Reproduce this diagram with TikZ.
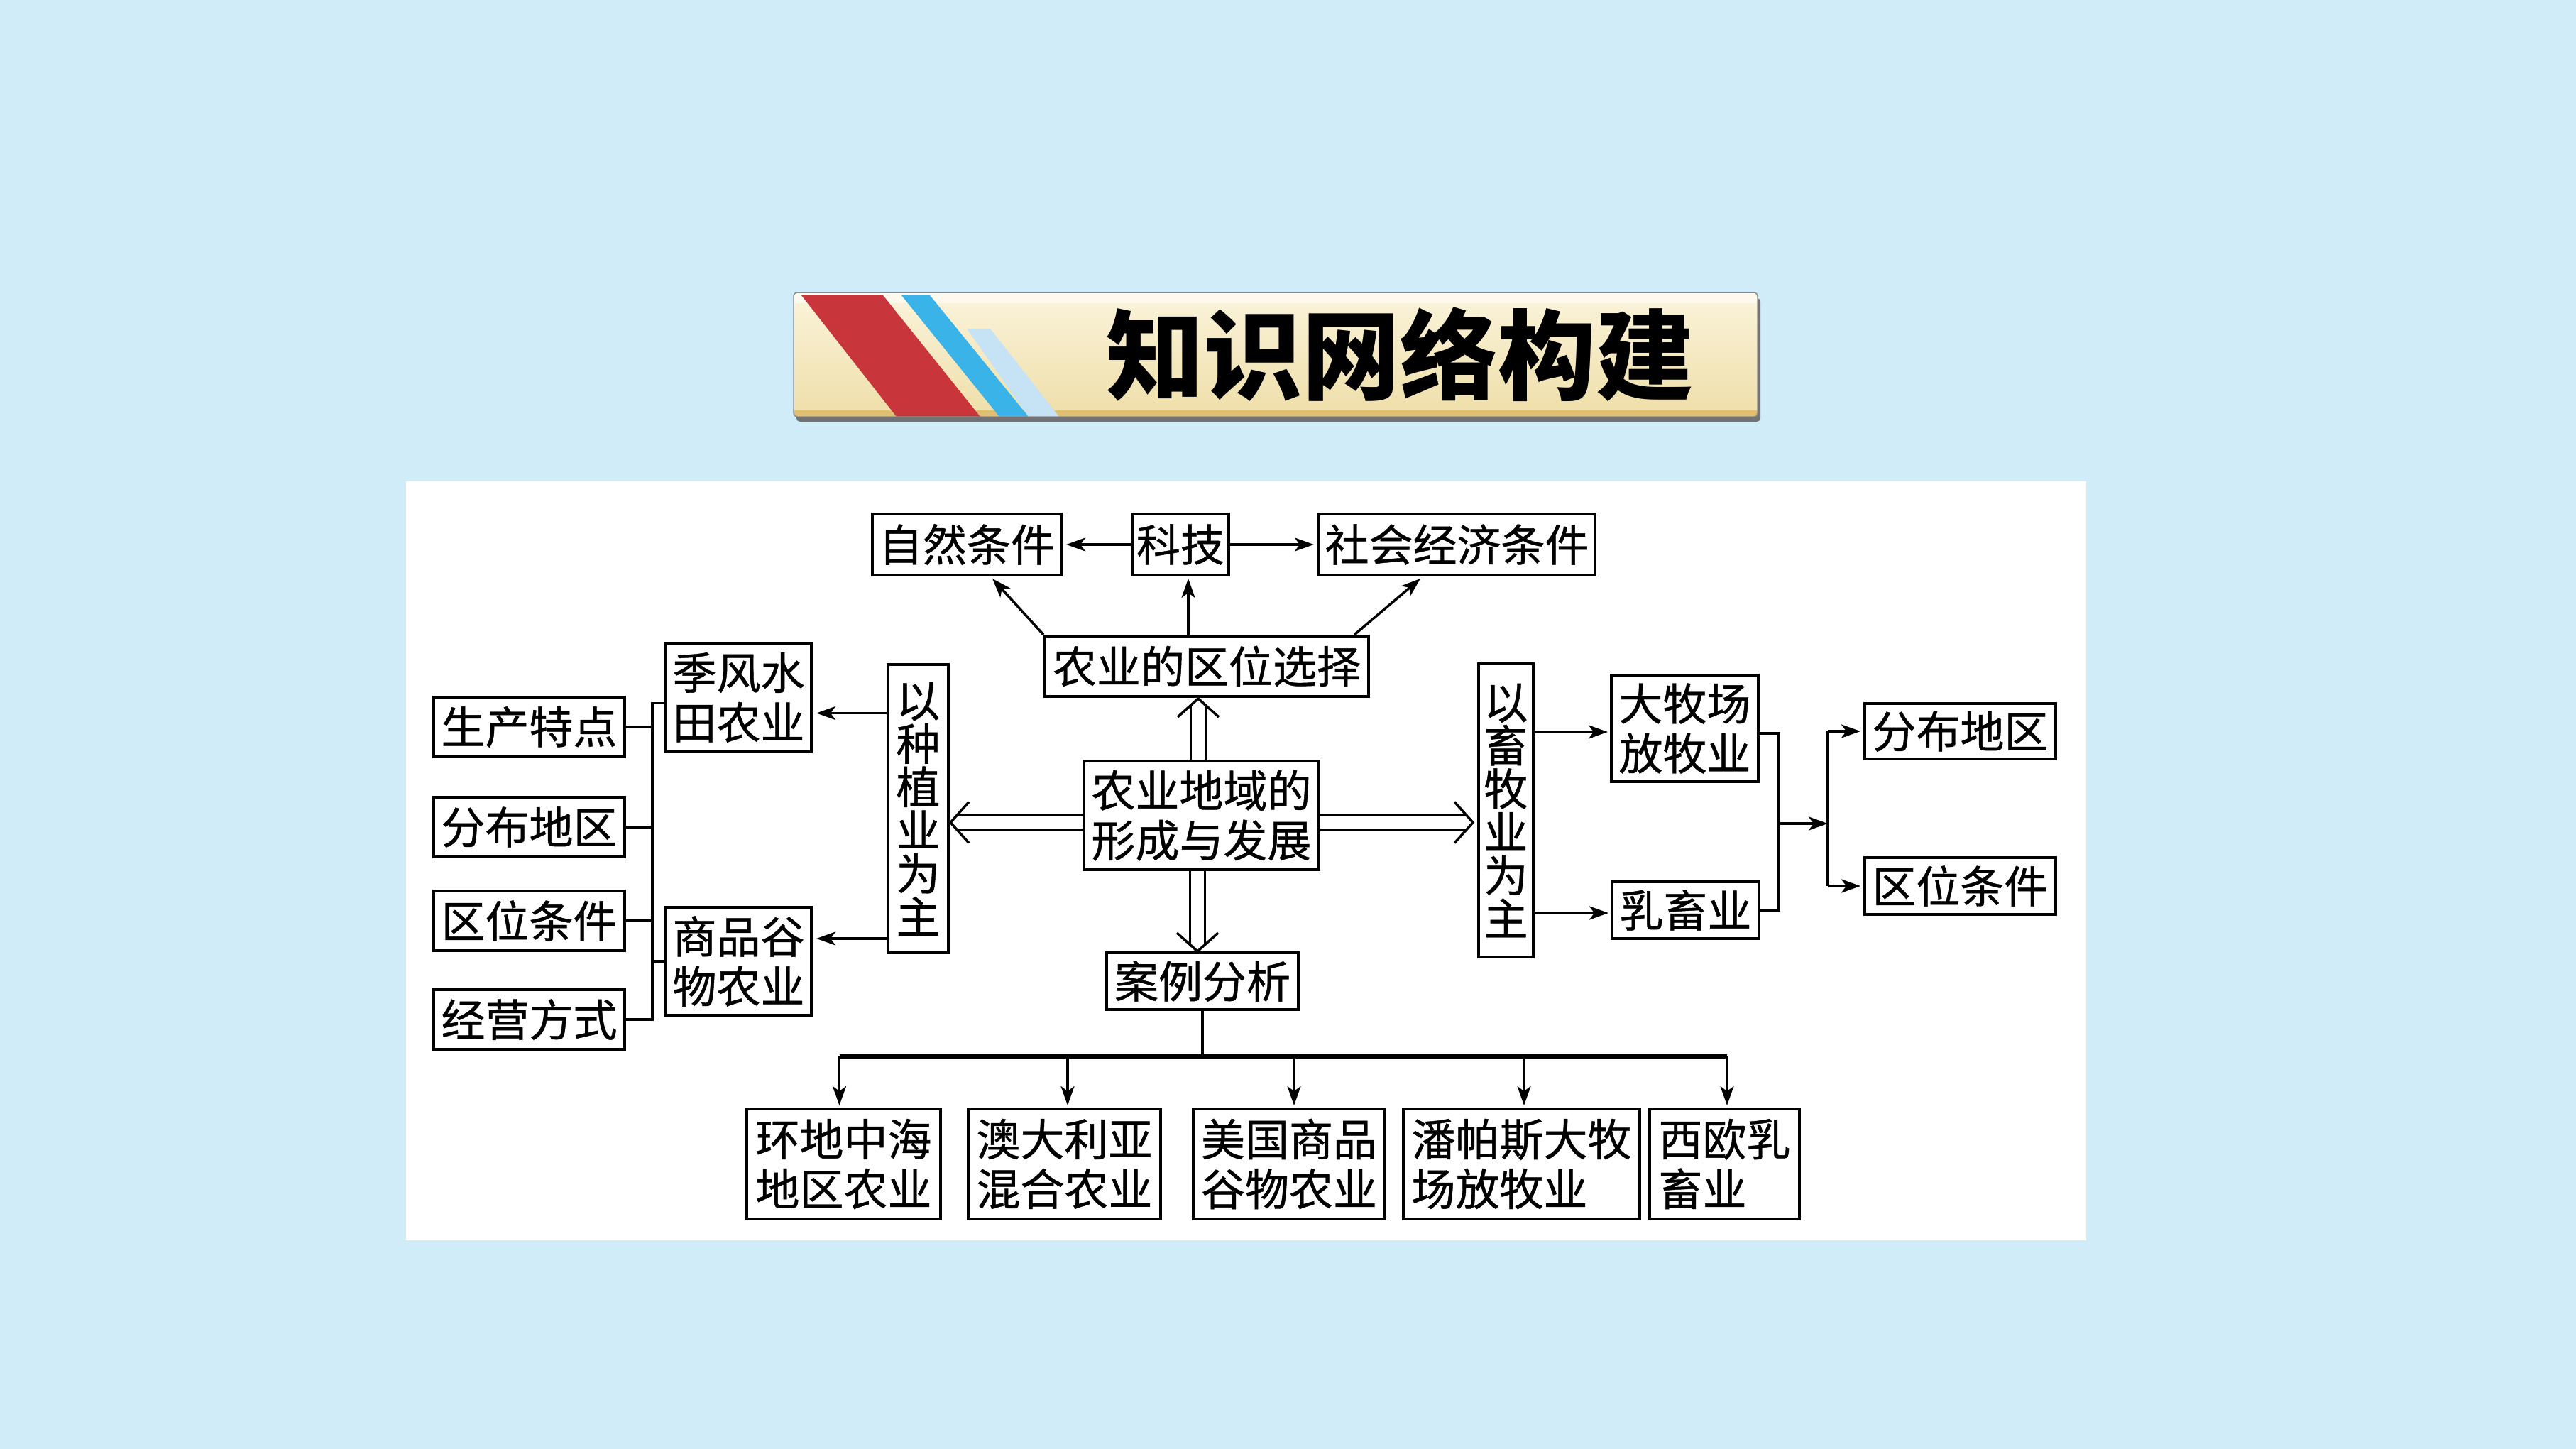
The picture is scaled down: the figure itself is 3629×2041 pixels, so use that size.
\documentclass[tikz,border=0pt]{standalone}
\usepackage{fontspec}
\newfontfamily\cjk{Noto Sans CJK SC}
\newfontfamily\cjkb[FakeBold=0.7]{Noto Sans CJK SC}
\usetikzlibrary{arrows.meta,calc}
\definecolor{bgblue}{RGB}{208,236,248}
\definecolor{bantop}{RGB}{251,244,220}
\definecolor{banbot}{RGB}{238,222,168}
\definecolor{banhi}{RGB}{253,249,236}
\definecolor{bangold}{RGB}{222,192,112}
\definecolor{banred}{RGB}{200,54,60}
\definecolor{banblue}{RGB}{58,180,232}
\definecolor{banlblue}{RGB}{197,227,245}
\newcommand\dblarrow[3]{%
  \begin{scope}[shift={(#1)},rotate=#2]
    \draw[conn] (-#3,10.5) -- (-9,10.5) (-#3,-10.5) -- (-9,-10.5);
    \draw[conn,line join=miter] (-26,29) -- (0,0) -- (-26,-29);
  \end{scope}}
\begin{document}
\begin{tikzpicture}[x=1pt,y=-1pt,
  box/.style={draw=black,line width=4pt,fill=white,inner sep=0pt,
    font=\cjkb\fontsize{62pt}{70pt}\selectfont,align=center},
  lbox/.style={box,align=left},
  vbox/.style={box,font=\cjkb\fontsize{62pt}{61pt}\selectfont},
  conn/.style={line width=3.5pt,draw=black},
  arr/.style={conn,-{Stealth[length=27pt,width=19pt,inset=7pt]}},
  bar/.style={line width=5.5pt,draw=black}]
\useasboundingbox (0,0) rectangle (3629,2041);
\fill[bgblue] (0,0) rectangle (3629,2041);
% panel
\fill[white] (572,678) rectangle (2939,1747);
% banner
\fill[black!55,rounded corners=5pt] (1122,420) rectangle (2480,594);
\begin{scope}
  \clip[rounded corners=5pt] (1118,412) rectangle (2476,587);
  \shade[top color=bantop,bottom color=banbot] (1118,412) rectangle (2476,587);
  \fill[banhi] (1118,412) rectangle (2476,427);
  \fill[bangold] (1118,578) rectangle (2476,587);
  \fill[banred] (1129,416) -- (1244,416) -- (1381,587) -- (1263,587) -- cycle;
  \fill[banblue] (1270,416) -- (1310,416) -- (1449,587) -- (1408,587) -- cycle;
  \fill[banlblue] (1362,463) -- (1395,463) -- (1492,587) -- (1449,587) -- cycle;
\end{scope}
\draw[black!45,line width=1.5pt,rounded corners=5pt] (1118,412) rectangle (2476,587);
\node[font=\cjk\bfseries\fontsize{138pt}{140pt}\selectfont,inner sep=0pt] (title) at (1972,499) {知识网络构建};
% nodes
\node[box,minimum width=266,minimum height=86] (zr) at (1362,767) {自然条件};
\node[box,minimum width=136,minimum height=86] (kj) at (1663,767) {科技};
\node[box,minimum width=389,minimum height=86] (sh) at (2052.5,767) {社会经济条件};
\node[box,minimum width=456,minimum height=85] (qw) at (1700,938.5) {农业的区位选择};
\node[box,minimum width=331,minimum height=153] (dev) at (1692.5,1148.5) {农业地域的\\形成与发展};
\node[box,minimum width=270,minimum height=80] (al) at (1694,1382) {案例分析};
\node[vbox,minimum width=85,minimum height=406] (zz) at (1293.5,1139) {以\\种\\植\\业\\为\\主};
\node[lbox,minimum width=205,minimum height=153] (jf) at (1040.5,982.5) {季风水\\田农业};
\node[lbox,minimum width=205,minimum height=152] (sp) at (1040.5,1354) {商品谷\\物农业};
\node[box,minimum width=269,minimum height=84] (L1) at (745.5,1024) {生产特点};
\node[box,minimum width=269,minimum height=84] (L2) at (745.5,1165) {分布地区};
\node[box,minimum width=269,minimum height=84] (L3) at (745.5,1297) {区位条件};
\node[box,minimum width=269,minimum height=84] (L4) at (745.5,1436) {经营方式};
\node[vbox,minimum width=77,minimum height=413] (xm) at (2121.5,1141.5) {以\\畜\\牧\\业\\为\\主};
\node[lbox,minimum width=207,minimum height=150] (dm) at (2373.5,1026) {大牧场\\放牧业};
\node[box,minimum width=207,minimum height=80] (rx) at (2374.5,1282) {乳畜业};
\node[box,minimum width=269,minimum height=78] (R1) at (2761.5,1030) {分布地区};
\node[box,minimum width=269,minimum height=80] (R2) at (2761.5,1248) {区位条件};
\node[lbox,minimum width=273,minimum height=155] (b1) at (1188.5,1639.5) {环地中海\\地区农业};
\node[lbox,minimum width=271,minimum height=155] (b2) at (1499.5,1639.5) {澳大利亚\\混合农业};
\node[lbox,minimum width=270,minimum height=155] (b3) at (1816,1639.5) {美国商品\\谷物农业};
\node[lbox,minimum width=333,minimum height=155] (b4) at (2143.5,1639.5) {潘帕斯大牧\\场放牧业};
\node[lbox,minimum width=211,minimum height=155] (b5) at (2429.5,1639.5) {西欧乳\\畜业};
% top connectors
\draw[arr,shorten >=5pt] (kj.west) -- (zr.east);
\draw[arr,shorten >=5pt] (kj.east) -- (sh.west);
\draw[arr] (qw.north west) -- ($(zr.south)+(36,3)$);
\coordinate (kjb) at ($(kj.south)+(11,3)$);
\draw[arr] (qw.north -| kjb) -- (kjb);
\draw[arr] ($(qw.north east)+(-22,0)$) -- ($(sh.south west)+(145,3)$);
% double arrows
\coordinate (tU) at ($(qw.south)+(-12,1)$);
\coordinate (tL) at ($(zz.east)+(1,19.5)$);
\coordinate (tR) at ($(xm.west)+(-6,17)$);
\coordinate (tD) at ($(al.north)+(-7,0)$);
\dblarrow{tU}{90}{90}
\dblarrow{tL}{180}{190}
\dblarrow{tR}{0}{219}
\dblarrow{tD}{-90}{117}
% left side
\coordinate (ja) at ($(jf.east)+(5,22)$);
\coordinate (sa) at ($(sp.east)+(5,-32)$);
\draw[arr] (zz.west |- ja) -- (ja);
\draw[arr] (zz.west |- sa) -- (sa);
\coordinate (lbx) at ($(L1.east)+(37,0)$);
\coordinate (jw) at ($(jf.west)+(0,8)$);
\draw[conn] (jw) -- (lbx |- jw) -- (lbx |- L4.east) -- (L4.east);
\draw[conn] (L1.east) -- (lbx |- L1.east);
\draw[conn] (L2.east) -- (lbx |- L2.east);
\draw[conn] (L3.east) -- (lbx |- L3.east);
\draw[conn] (sp.west) -- (lbx |- sp.west);
% right side
\coordinate (dma) at ($(dm.west)+(-3,5)$);
\coordinate (rxa) at ($(rx.west)+(-3,4)$);
\draw[arr] (xm.east |- dma) -- (dma);
\draw[arr] (xm.east |- rxa) -- (rxa);
\coordinate (dme) at ($(dm.east)+(0,7)$);
\coordinate (rbx) at ($(dm.east)+(27,0)$);
\draw[conn] (dme) -- (rbx |- dme) -- (rbx |- rx.east) -- (rx.east);
\coordinate (rm) at (2504,1160);
\coordinate (rvx) at ($(R1.west)+(-50,0)$);
\draw[arr] (rm) -- (rvx |- rm);
\draw[conn] (rvx |- R1.west) -- (rvx |- R2.west);
\draw[arr,shorten >=4pt] (rvx |- R1.west) -- (R1.west);
\draw[arr,shorten >=4pt] (rvx |- R2.west) -- (R2.west);
% bottom
\coordinate (barY) at ($(al.south)+(0,64)$);
\draw[conn] (al.south) -- (al.south |- barY);
\coordinate (a1) at ($(b1.north)+(-6,-3)$);
\coordinate (a2) at ($(b2.north)+(4.5,-3)$);
\coordinate (a3) at ($(b3.north)+(7,-3)$);
\coordinate (a4) at ($(b4.north)+(3.5,-3)$);
\coordinate (a5) at ($(b5.north)+(3.5,-3)$);
\draw[bar] (a1 |- barY) -- (a5 |- barY);
\foreach \i in {1,...,5} {\draw[arr] (a\i |- barY) -- (a\i);}
\end{tikzpicture}
\end{document}
